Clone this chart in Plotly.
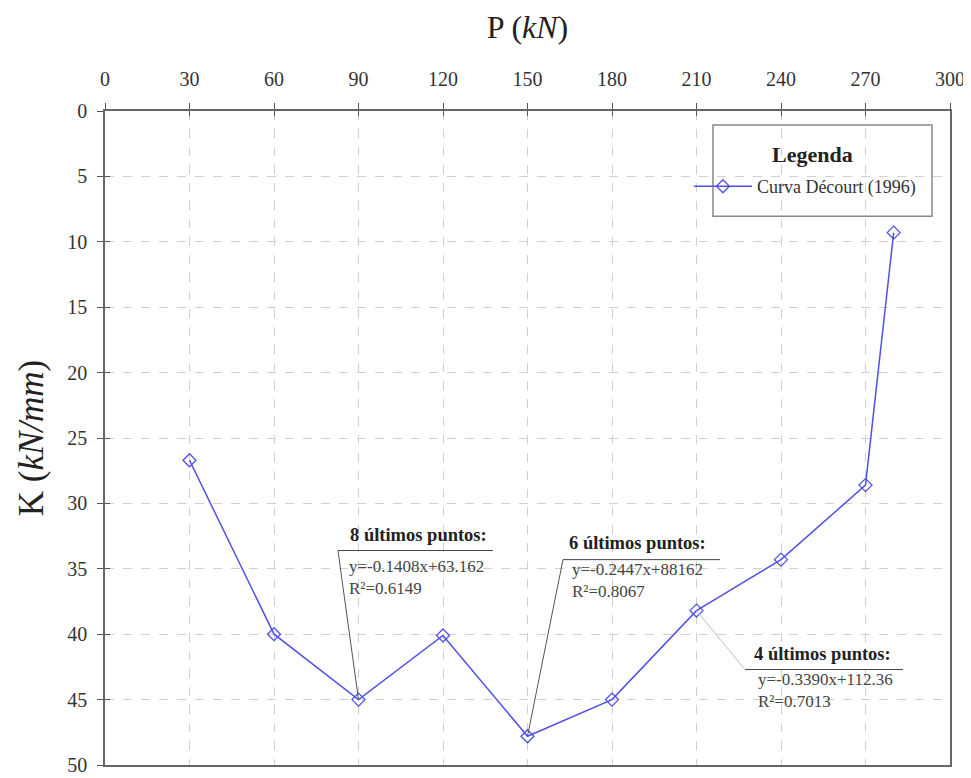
import plotly.graph_objects as go

P = [30, 60, 90, 120, 150, 180, 210, 240, 270, 280]
K = [26.7, 40.0, 45.0, 40.1, 47.8, 45.0, 38.2, 34.3, 28.6, 9.3]
x_ticks = [0, 30, 60, 90, 120, 150, 180, 210, 240, 270, 300]
y_ticks = [0, 5, 10, 15, 20, 25, 30, 35, 40, 45, 50]

fit_titles = ["8 últimos puntos:", "6 últimos puntos:", "4 últimos puntos:"]
fit_eqs = ["y=-0.1408x+63.162", "y=-0.2447x+88162", "y=-0.3390x+112.36"]
fit_r2 = ["R²=0.6149", "R²=0.8067", "R²=0.7013"]
fit_anchor_P = [90, 150, 210]
fit_anchor_K = [45.0, 47.8, 38.2]
# label block placement (data coords)
fit_ul_x0 = [82.7, 162.6, 227.2]
fit_ul_x1 = [137.7, 218.3, 283.3]
fit_ul_y = [33.6, 34.3, 42.7]
fit_title_x = [111.3, 189.2, 254.9]
fit_title_y = [32.4, 33.0, 41.5]
fit_eq_x = [86.0, 165.0, 231.0]
fit_eq_mid = [35.68, 35.87, 44.34]
leader_colors = ["#555555", "#555555", "#c0c0c0"]

FONT = "Liberation Serif"
BLUE = "#5050e8"

fig = go.Figure()
fig.add_trace(go.Scatter(
    x=P, y=K, mode="lines+markers", name="Curva Décourt (1996)",
    line=dict(color=BLUE, width=1.5),
    marker=dict(symbol="diamond-open", size=10, color=BLUE, line=dict(width=1.3)),
))
# invisible helper trace so the overlay axes (inner tick marks) are drawn
fig.add_trace(go.Scatter(
    x=P, y=K, xaxis="x2", yaxis="y2", mode="lines", opacity=0,
    line=dict(width=0), showlegend=False, hoverinfo="skip",
))

shapes = []
annotations = []
for i in range(3):
    shapes.append(dict(type="line", xref="x", yref="y",
                       x0=fit_ul_x0[i], x1=fit_ul_x1[i], y0=fit_ul_y[i], y1=fit_ul_y[i],
                       line=dict(color="#444444", width=1)))
    shapes.append(dict(type="line", xref="x", yref="y",
                       x0=fit_ul_x0[i], x1=fit_anchor_P[i], y0=fit_ul_y[i], y1=fit_anchor_K[i],
                       line=dict(color=leader_colors[i], width=1)))
    annotations.append(dict(x=fit_title_x[i], y=fit_title_y[i], xref="x", yref="y",
                            text="<b>" + fit_titles[i] + "</b>", showarrow=False,
                            font=dict(family=FONT, size=18.5, color="#222222"),
                            xanchor="center", yanchor="middle"))
    annotations.append(dict(x=fit_eq_x[i], y=fit_eq_mid[i], xref="x", yref="y",
                            text=fit_eqs[i] + "<br>" + fit_r2[i], showarrow=False,
                            font=dict(family=FONT, size=17, color="#444444"),
                            xanchor="left", yanchor="middle", align="left"))

# legend frame and heading (paper coords of the plot area)
shapes.append(dict(type="rect", xref="paper", yref="paper",
                   x0=0.7195, x1=0.9787, y0=0.839, y1=0.9787,
                   line=dict(color="#888888", width=1.5), fillcolor="white", layer="below"))
annotations.append(dict(x=0.8367, y=0.9331, xref="paper", yref="paper",
                        text="<b>Legenda</b>", showarrow=False,
                        font=dict(family=FONT, size=22, color="#222222"),
                        xanchor="center", yanchor="middle"))

# page body has an 8px margin: figure is sized so the plot area lands where the reference has it
fig.update_layout(
    width=963, height=770,
    margin=dict(l=97, r=21, t=103, b=13),
    paper_bgcolor="white", plot_bgcolor="white",
    font=dict(family=FONT, color="#333333"),
    shapes=shapes, annotations=annotations,
    showlegend=True,
    legend=dict(
        x=0.691, y=0.8845, xanchor="left", yanchor="middle",
        borderwidth=0, bgcolor="rgba(0,0,0,0)",
        font=dict(family=FONT, size=18, color="#333333"),
        itemwidth=58,
    ),
    xaxis=dict(
        side="top", range=[0, 300], tickvals=x_ticks, automargin=False,
        ticks="outside", ticklen=6, tickcolor="#555555",
        tickfont=dict(family=FONT, size=20, color="#333333"),
        ticklabelstandoff=9, ticklabeloverflow="allow",
        showline=True, linecolor="#666666", linewidth=1.5, mirror=True,
        showgrid=True, gridcolor="#d0d0d0", griddash="dash", gridwidth=1,
        zeroline=False,
        title=dict(text="P (<i>kN</i>)", font=dict(family=FONT, size=32, color="#222222"), standoff=20),
    ),
    yaxis=dict(
        range=[50, 0], tickvals=y_ticks, automargin=False,
        ticks="outside", ticklen=6, tickcolor="#555555",
        tickfont=dict(family=FONT, size=20, color="#333333"),
        ticklabelstandoff=6, ticklabeloverflow="allow",
        showline=True, linecolor="#666666", linewidth=1.5, mirror=True,
        showgrid=True, gridcolor="#d0d0d0", griddash="dash", gridwidth=1,
        zeroline=False,
        title=dict(text="K (<i>kN/mm</i>)", font=dict(family=FONT, size=35, color="#222222"), standoff=13),
    ),
    xaxis2=dict(overlaying="x", side="top", range=[0, 300], tickvals=x_ticks,
                ticks="inside", ticklen=5, tickcolor="#555555", showticklabels=False,
                showgrid=False, showline=False, zeroline=False, automargin=False),
    yaxis2=dict(overlaying="y", side="left", range=[50, 0], tickvals=y_ticks,
                ticks="inside", ticklen=5, tickcolor="#555555", showticklabels=False,
                showgrid=False, showline=False, zeroline=False, automargin=False),
)

fig.write_html("out.html")
